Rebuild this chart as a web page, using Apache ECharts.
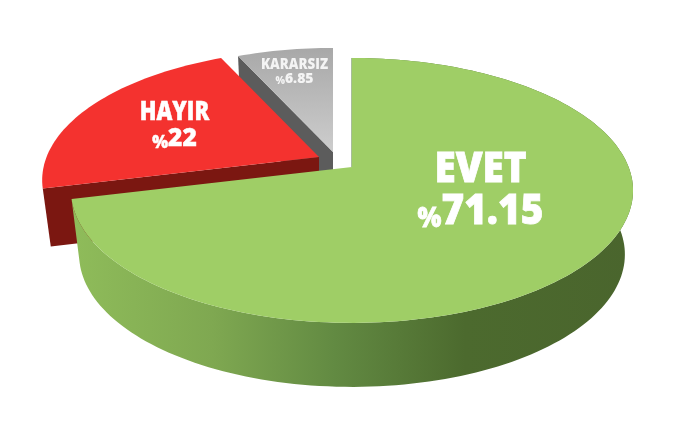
<!DOCTYPE html>
<html><head><meta charset="utf-8">
<style>html,body{margin:0;padding:0;background:#fff}#c{width:700px;height:437px}</style>
<script src="https://cdn.jsdelivr.net/npm/echarts@6/dist/echarts.min.js"></script>
</head><body><div id="c"></div>
<script>
// data
const categories = ['EVET', 'HAYIR', 'KARARSIZ'];
const values = [71.15, 22, 6.85];

// layout (one entry per slice): apex offset, radial scale, extrusion depth, z order
const CX = 352, CY = 167, RX = 276.6, RY = 128.3, K = 0.177, SHRINK = 0.971;
const slices = [
  { dx: 0, dy: 0, scale: 1, depth: 64, z: 30, top: '#9fce66', face: null, edge: '#4f7a33',
    labelX: 480.5, nameY: 170, valY: 212, nameSize: 43, valSize: 43, pctSize: 28, nameSX: 0.9, valSX: 0.9, labelColor: '#fff', heavy: 0.8 },
  { dx: -33, dy: -10, scale: 0.985, depth: 58, z: 20, top: '#f4322f', face: '#7b1711',
    labelX: 174.5, nameY: 113, valY: 139, nameSize: 26, valSize: 25, pctSize: 17, nameSX: 0.84, valSX: 0.98, labelColor: '#fff', heavy: 0.5 },
  { dx: -19, dy: -15, scale: 0.955, depth: 64, z: 10,
    top: { type: 'linear', x: 0, y: 0, x2: 0, y2: 1, colorStops: [{ offset: 0, color: '#a8a8a8' }, { offset: 1, color: '#cdcdcd' }] },
    face: '#5c5c5c',
    labelX: 294.5, nameY: 65, valY: 79, nameSize: 15, valSize: 14, pctSize: 10, nameSX: 0.89, valSX: 1, labelColor: '#f4f4f4', heavy: 0 }
];
const sideGradient = {
  type: 'linear', x: 0, y: 0, x2: 1, y2: 0,
  colorStops: [
    { offset: 0, color: '#8fbc5a' }, { offset: 0.25, color: '#7fa851' },
    { offset: 0.47, color: '#628a42' }, { offset: 0.7, color: '#4c6a2e' }, { offset: 1, color: '#4a652d' }
  ]
};

const total = values.reduce((a, b) => a + b, 0);
// perspective projection of a disc point (fraction of the turn, clockwise from 12 o'clock)
function rim(frac, s) {
  const a = frac * 2 * Math.PI, u = Math.sin(a), v = -Math.cos(a), d = 1 - K * v;
  return [CX + s.dx + s.scale * RX * u / d, CY + s.dy + s.scale * RY * v / d];
}
function drop(p, s, depth) {
  const ox = CX + s.dx;
  return [ox + (p[0] - ox) * SHRINK, p[1] + depth];
}

const chart = echarts.init(document.getElementById('c'), null, { renderer: 'canvas' });
chart.setOption({
  animation: false,
  backgroundColor: '#fff',
  series: [{
    type: 'custom',
    coordinateSystem: 'none',
    silent: true,
    data: categories.map((n, i) => ({ name: n, value: [values[i]] })),
    renderItem(params, api) {
      const i = params.dataIndex, s = slices[i], val = api.value(0);
      const before = values.slice(0, i).reduce((a, b) => a + b, 0);
      const f0 = before / total, f1 = (before + val) / total;
      const apex = [CX + s.dx, CY + s.dy];
      const arc = [];
      const n = Math.max(12, Math.round((f1 - f0) * 240));
      for (let k = 0; k <= n; k++) arc.push(rim(f0 + (f1 - f0) * k / n, s));
      const kids = [];
      if (i === 0) {
        const side = arc.concat(arc.slice().reverse().map(p => drop(p, s, s.depth)));
        kids.push({ type: 'polygon', shape: { points: side }, style: { fill: sideGradient }, z2: s.z });
        kids.push({ type: 'polyline', shape: { points: [arc[0], apex] }, style: { stroke: s.edge, lineWidth: 1, fill: null }, z2: s.z });
      } else {
        const outer = arc[0];
        const face = [outer, apex, drop(apex, s, s.depth), drop(outer, s, s.depth)];
        kids.push({ type: 'polygon', shape: { points: face }, style: { fill: s.face }, z2: s.z });
      }
      kids.push({ type: 'polygon', shape: { points: [apex].concat(arc) }, style: { fill: s.top }, z2: s.z + 1 });
      const font = '"Open Sans", sans-serif';
      const stroke = s.heavy ? { stroke: s.labelColor, lineWidth: s.heavy } : {};
      kids.push({
        type: 'text', z2: 50, x: s.labelX, y: s.nameY, scaleX: s.nameSX,
        style: Object.assign({ x: 0, y: 0, text: categories[i], fill: s.labelColor,
          font: `800 ${s.nameSize}px ${font}`, align: 'center', verticalAlign: 'middle' }, stroke)
      });
      kids.push({
        type: 'text', z2: 50, x: s.labelX, y: s.valY, scaleX: s.valSX,
        style: { x: 0, y: 0, text: `{p|%}{n|${val}}`, fill: s.labelColor, align: 'center', verticalAlign: 'middle',
          rich: {
            p: Object.assign({ fontFamily: font, fontWeight: 800, fontSize: s.pctSize, fill: s.labelColor, verticalAlign: 'bottom' }, stroke),
            n: Object.assign({ fontFamily: font, fontWeight: 800, fontSize: s.valSize, fill: s.labelColor }, stroke)
          } }
      });
      return { type: 'group', children: kids };
    }
  }]
});
</script></body></html>
